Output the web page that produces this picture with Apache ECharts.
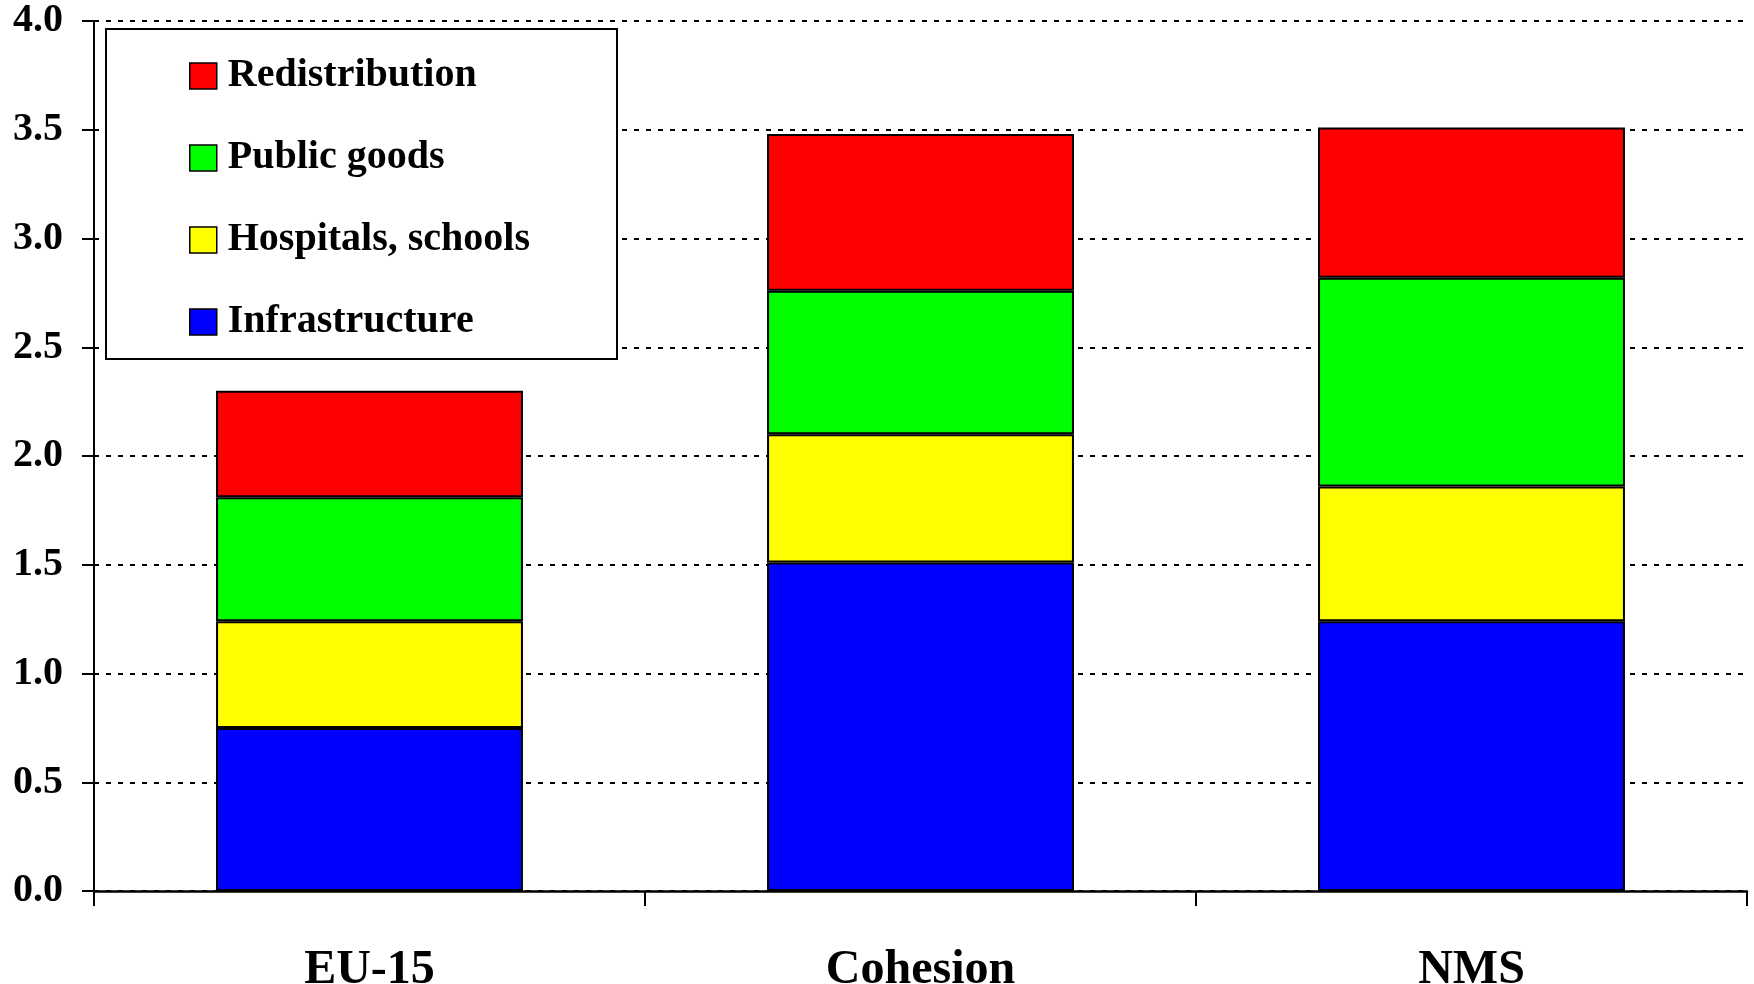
<!DOCTYPE html>
<html>
<head>
<meta charset="utf-8">
<script src="https://cdn.jsdelivr.net/npm/echarts@6/dist/echarts.min.js"></script>
<style>
  html, body { margin: 0; padding: 0; background: #ffffff; }
  #chart { width: 1754px; height: 984px; }
</style>
</head>
<body>
<div id="chart"></div>
<script>
// Country groups on the category axis
const groups = ['EU-15', 'Cohesion', 'NMS'];

// Spending components, stacked bottom to top
const infrastructure = [0.75, 1.51, 1.24];
const hospitalsSchools = [0.49, 0.59, 0.62];
const publicGoods = [0.57, 0.66, 0.96];
const redistribution = [0.49, 0.72, 0.69];

// Value axis range and step
const yMin = 0;
const yMax = 4;
const yStep = 0.5;

const FONT = '"Liberation Serif", "Times New Roman", serif';

const seriesDefs = [
  { name: 'Infrastructure', data: infrastructure, color: '#0000FF' },
  { name: 'Hospitals, schools', data: hospitalsSchools, color: '#FFFF00' },
  { name: 'Public goods', data: publicGoods, color: '#00FF00' },
  { name: 'Redistribution', data: redistribution, color: '#FF0000' }
];

const chart = echarts.init(document.getElementById('chart'), null, { renderer: 'canvas' });

chart.setOption({
  animation: false,
  backgroundColor: '#ffffff',
  grid: {
    left: 94, right: 7, top: 21, bottom: 93,
    containLabel: false,
    outerBoundsMode: 'none'
  },
  // Framed white panel behind the legend entries
  graphic: [{
    type: 'rect',
    z: 3,
    left: 105,
    top: 28,
    shape: { width: 511, height: 330 },
    style: { fill: '#ffffff', stroke: '#000000', lineWidth: 2 }
  }],
  legend: {
    orient: 'vertical',
    left: 189,
    top: 54,
    z: 5,
    data: ['Redistribution', 'Public goods', 'Hospitals, schools', 'Infrastructure'],
    icon: 'rect',
    itemWidth: 27,
    itemHeight: 26,
    itemGap: 38,
    padding: 0,
    selectedMode: false,
    itemStyle: { borderColor: '#000000', borderWidth: 1.5 },
    textStyle: {
      fontFamily: FONT,
      fontWeight: 'bold',
      fontSize: 40,
      color: '#000000',
      lineHeight: 44,
      padding: [0, 0, 0, 6]
    }
  },
  xAxis: {
    type: 'category',
    data: groups,
    boundaryGap: true,
    axisLine: { show: true, lineStyle: { color: '#000000', width: 2.5 } },
    axisTick: { show: true, length: 15, inside: false, lineStyle: { color: '#000000', width: 2 } },
    axisLabel: {
      fontFamily: FONT,
      fontWeight: 'bold',
      fontSize: 48,
      color: '#000000',
      margin: 56
    },
    splitLine: { show: false }
  },
  yAxis: {
    type: 'value',
    min: yMin,
    max: yMax,
    interval: yStep,
    axisLine: { show: true, lineStyle: { color: '#000000', width: 2 } },
    axisTick: { show: true, length: 12, lineStyle: { color: '#000000', width: 2 } },
    axisLabel: {
      fontFamily: FONT,
      fontWeight: 'bold',
      fontSize: 40,
      color: '#000000',
      margin: 31,
      formatter: v => v.toFixed(1)
    },
    splitLine: {
      show: true,
      lineStyle: { color: '#000000', width: 2, type: [5, 7] }
    }
  },
  series: seriesDefs.map(s => ({
    name: s.name,
    type: 'bar',
    stack: 'total',
    data: s.data,
    barWidth: '55.7%',
    itemStyle: { color: s.color, borderColor: '#000000', borderWidth: 2 },
    emphasis: { disabled: true }
  }))
});
</script>
</body>
</html>
